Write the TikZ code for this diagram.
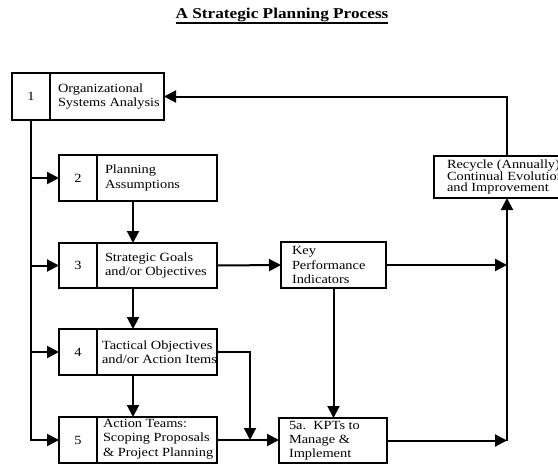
\documentclass[tikz,border=0pt]{standalone}
\usepackage{fontspec}
\setmainfont{Liberation Serif}[FakeStretch=1.15]
\usetikzlibrary{arrows.meta}
\begin{document}
\begin{tikzpicture}[x=1pt,y=-1pt,
  every node/.style={inner sep=0pt, outer sep=0pt},
  txt/.style={font=\fontsize{12.5}{14.5}\selectfont},
  cell/.style={draw, line width=2pt, txt},
  numcell/.style={cell, minimum width=38pt, align=center},
  textcell/.style={cell, minimum width=120pt},
  label/.style={txt, align=left, anchor=west},
  conn/.style={line width=2pt},
  arr/.style={conn, -{Triangle[length=12pt,width=12pt]}},
]
\useasboundingbox (0,0) rectangle (558,464);
\fill[white] (0,0) rectangle (558,464);
\clip (0,0) rectangle (558,464);

% title
\node[font=\fontsize{15}{17}\selectfont\bfseries] (title) at (282,15) {A Strategic Planning Process};
\draw[line width=2pt] ([yshift=-4pt]title.base west) -- ([yshift=-4pt]title.base east);

% box 1
\node[cell, minimum width=114pt, minimum height=47pt] (b1t) at (107,96.5) {};
\node[numcell, minimum height=47pt, anchor=east] (b1n) at (b1t.west) {1};
\node[label, font=\fontsize{12.5}{14}\selectfont] (l1) at ([xshift=8pt]b1t.west) {Organizational\\Systems Analysis};

% boxes 2 to 5
\node[textcell, minimum height=46pt] (b2t) at (157,178) {};
\node[numcell, minimum height=46pt, anchor=east] (b2n) at (b2t.west) {2};
\node[label] (l2) at ([xshift=8pt]b2t.west) {Planning\\Assumptions};

\node[textcell, minimum height=45pt] (b3t) at (157,265.5) {};
\node[numcell, minimum height=45pt, anchor=east] (b3n) at (b3t.west) {3};
\node[label] (l3) at ([xshift=8pt]b3t.west) {Strategic Goals\\and/or Objectives};

\node[textcell, minimum height=46pt] (b4t) at (157,352) {};
\node[numcell, minimum height=46pt, anchor=east] (b4n) at (b4t.west) {4};
\node[label] (l4) at ([xshift=5pt]b4t.west) {Tactical Objectives\\and/or Action Items};

\node[textcell, minimum height=46pt] (b5t) at (157,440) {};
\node[numcell, minimum height=46pt, anchor=east] (b5n) at (b5t.west) {5};
\node[label] (l5) at ([xshift=6pt,yshift=1pt]b5t.west) {Action Teams:\\Scoping Proposals\\\& Project Planning};

% right-hand boxes
\node[cell, minimum width=105pt, minimum height=46pt] (kpi) at (333.5,265) {};
\node[label] (lk) at ([xshift=11pt]kpi.west) {Key\\Performance\\Indicators};
\node[cell, minimum width=108pt, minimum height=45pt] (kpt) at (333,440.5) {};
\node[label, font=\fontsize{12.5}{14}\selectfont] (lp) at ([xshift=10pt]kpt.west) {5a.\ \ KPTs to\\Manage \&\\Implement};
\node[cell, minimum width=150pt, minimum height=42pt] (rec) at (509,177) {};
\node[label, font=\fontsize{12.5}{11.5}\selectfont] (lr) at ([xshift=13pt]rec.west) {Recycle (Annually)\\Continual Evolution\\and Improvement};

% helper columns
\coordinate (col) at (133,0);
\coordinate (jx) at (250,0);
\coordinate (rx) at (507,0);

% left trunk feeding every step
\draw[conn] (b1n.south) |- (b5n.west);
\draw[arr] (b1n.south |- b2n.west) -- (b2n.west);
\draw[arr] (b1n.south |- b3n.west) -- (b3n.west);
\draw[arr] (b1n.south |- b4n.west) -- (b4n.west);
\draw[arr] (b1n.south |- b5n.west) -- (b5n.west);

% step to step
\draw[arr] (b2t.south -| col) -- (b3t.north -| col);
\draw[arr] (b3t.south -| col) -- (b4t.north -| col);
\draw[arr] (b4t.south -| col) -- (b5t.north -| col);

% into KPIs and KPTs
\draw[arr] (b3t.east) -- (kpi.west);
\draw[arr] (b5t.east) -- (kpt.west |- b5t.east);
\draw[arr] (b4t.east) -| (b5t.east -| jx);
\draw[arr] (kpi.south) -- (kpi.south |- kpt.north);

% to the recycle step
\draw[arr] (kpi.east) -- (kpi.east -| rx);
\draw[arr] (kpt.east) -- (kpt.east -| rx);
\draw[arr] (kpt.east -| rx) -- (rec.south -| rx);

% feedback loop
\draw[arr] (rec.north -| rx) |- (b1t.east);
\end{tikzpicture}
\end{document}
